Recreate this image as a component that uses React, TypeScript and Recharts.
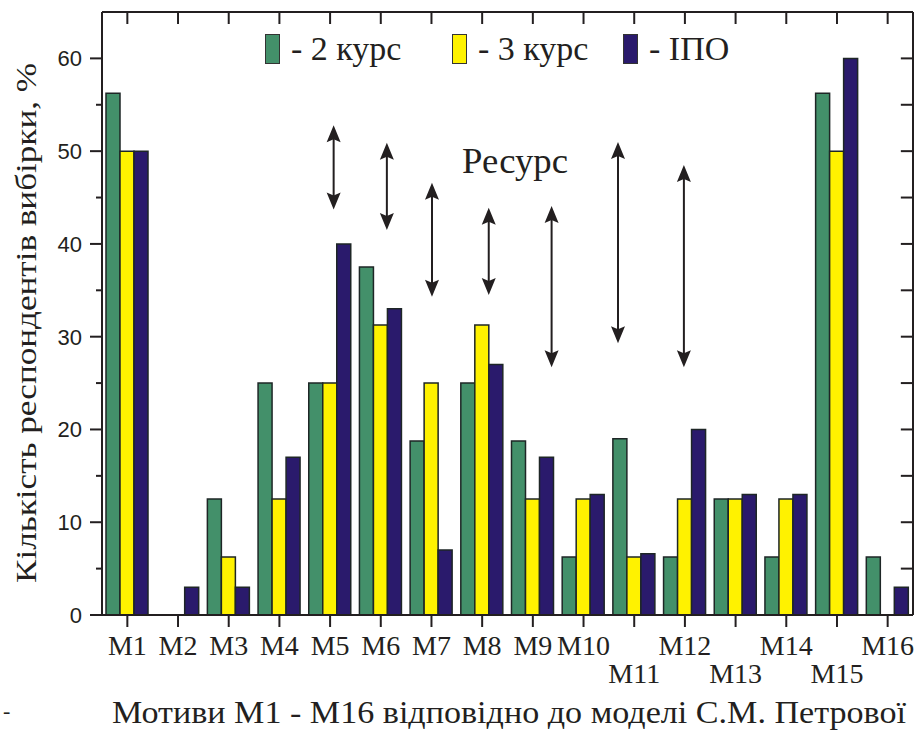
import { Bar, BarChart, Legend, ReferenceLine, XAxis, YAxis } from "recharts";

const categories = ["М1", "М2", "М3", "М4", "М5", "М6", "М7", "М8", "М9", "М10", "М11", "М12", "М13", "М14", "М15", "М16"];
const course2 = [56.25, 0, 12.5, 25, 25, 37.5, 18.75, 25, 18.75, 6.25, 19, 6.25, 12.5, 6.25, 56.25, 6.25];
const course3 = [50, 0, 6.25, 12.5, 25, 31.25, 25, 31.25, 12.5, 12.5, 6.25, 12.5, 12.5, 12.5, 50, 0];
const ipo = [50, 3, 3, 17, 40, 33, 7, 27, 17, 13, 6.6, 20, 13, 13, 60, 3];
const yTicks = [0, 5, 10, 15, 20, 25, 30, 35, 40, 45, 50, 55, 60];

// "resource" arrows: position on the category scale (1 = M1) and the two ends in %
const arrowX = [5.07, 6.12, 7.01, 8.13, 9.37, 10.68, 11.98];
const arrowTop = [52.8, 50.9, 46.6, 43.9, 44.1, 51.0, 48.5];
const arrowBottom = [43.7, 41.5, 34.3, 34.5, 26.7, 29.3, 26.7];

const series = [
  { key: "c2", name: "- 2 курс", fill: "#43906a" },
  { key: "c3", name: "- 3 курс", fill: "#fff200" },
  { key: "ipo", name: "- ІПО", fill: "#2a1a6c" },
];

const data = categories.map((name, i) => ({ name, pos: i + 1, c2: course2[i], c3: course3[i], ipo: ipo[i] }));

const SERIF = '"Liberation Serif", Tinos, "Times New Roman", Times, "DejaVu Serif", serif';
const SANS = '"Liberation Sans", Arimo, Arial, sans-serif';
const INK = "#231f20";
const PLOT_TOP = 12;
const Y_MAX = 65;
const X_MIN = 0.5;
const X_MAX = 16.5;
// inward tick length on the right frame, in axis units (about 12px)
const RIGHT_TICK = 0.24;

function LeftTick({ x, y, payload }: any) {
  const major = payload.value % 10 === 0;
  return (
    <g>
      <line x1={x - (major ? 12 : 6)} x2={x} y1={y} y2={y} stroke={INK} strokeWidth={2} />
      {major && (
        <text x={x - 20} y={y} dy={8} textAnchor="end" style={{ fontFamily: SANS, fontSize: 22 }} fill={INK}>
          {payload.value}
        </text>
      )}
    </g>
  );
}

function BottomTick({ x, y, payload, index }: any) {
  const low = index === 10 || index === 12 || index === 14;
  return (
    <text x={x} y={y} dy={low ? 54 : 26} textAnchor="middle" style={{ fontFamily: SERIF, fontSize: 28 }} fill={INK}>
      {payload.value}
    </text>
  );
}

function Arrow({ x1, y1, y2 }: any) {
  const top = Math.min(y1, y2);
  const bot = Math.max(y1, y2);
  return (
    <g fill={INK} stroke="none">
      <line x1={x1} x2={x1} y1={top + 10} y2={bot - 10} stroke={INK} strokeWidth={2} />
      <polygon points={`${x1},${top} ${x1 - 7},${top + 17} ${x1},${top + 14} ${x1 + 7},${top + 17}`} />
      <polygon points={`${x1},${bot} ${x1 - 7},${bot - 17} ${x1},${bot - 14} ${x1 + 7},${bot - 17}`} />
    </g>
  );
}

function YTitle() {
  return (
    <text x={36} y={323} transform="rotate(-90 36 323)" textAnchor="middle" textLength={520} lengthAdjust="spacingAndGlyphs"
      style={{ fontFamily: SERIF, fontSize: 30 }} fill={INK}>
      Кількість респондентів вибірки, %
    </text>
  );
}

// bottom-axis label: titles, plus the top frame with inward ticks at the band centres
function XTitle(props: any) {
  const vb = props.viewBox && props.viewBox.width ? props.viewBox : { x: 102, width: 811 };
  const band = vb.width / categories.length;
  return (
    <g>
      <line x1={vb.x} x2={vb.x + vb.width} y1={PLOT_TOP} y2={PLOT_TOP} stroke={INK} strokeWidth={2} />
      {categories.map((c, i) => (
        <line key={c} x1={vb.x + band * (i + 0.5)} x2={vb.x + band * (i + 0.5)} y1={PLOT_TOP} y2={PLOT_TOP + 12}
          stroke={INK} strokeWidth={2} />
      ))}
      <text x={509} y={723} textAnchor="middle" textLength={794} lengthAdjust="spacingAndGlyphs"
        style={{ fontFamily: SERIF, fontSize: 31 }} fill={INK}>
        Мотиви М1 - М16 відповідно до моделі С.М. Петрової
      </text>
      <text x={3} y={718} style={{ fontFamily: SERIF, fontSize: 22 }} fill={INK}>-</text>
      <text x={515} y={173} textAnchor="middle" textLength={106} lengthAdjust="spacingAndGlyphs"
        style={{ fontFamily: SERIF, fontSize: 35 }} fill={INK}>
        Ресурс
      </text>
    </g>
  );
}

function LegendRow() {
  const lefts = [265, 452, 623];
  return (
    <div style={{ position: "relative", width: 480, height: 40 }}>
      {series.map((s, i) => (
        <div key={s.key} style={{ position: "absolute", left: lefts[i] - 265, top: 0, display: "flex", alignItems: "center" }}>
          <span style={{ display: "inline-block", width: 13, height: 28, background: s.fill, border: "1px solid #333" }} />
          <span style={{ marginLeft: 11, fontFamily: SERIF, fontSize: 34, color: INK, lineHeight: "32px", whiteSpace: "nowrap" }}>
            {s.name}
          </span>
        </div>
      ))}
    </div>
  );
}

export default function App() {
  return (
    <div style={{ position: "absolute", left: 0, top: 0, background: "#fff" }}>
      <BarChart width={919} height={730} data={data} margin={{ top: PLOT_TOP, right: 6, bottom: 0, left: 0 }} barSize={14} barGap={0}>
        <XAxis dataKey="name" height={115} interval={0} tickSize={12} tickMargin={2} stroke={INK} strokeWidth={2}
          tickLine={{ stroke: INK, strokeWidth: 2 }} tick={<BottomTick />} label={<XTitle />} />
        <XAxis xAxisId="num" dataKey="pos" type="number" domain={[X_MIN, X_MAX]} allowDataOverflow hide />
        <YAxis domain={[0, Y_MAX]} ticks={yTicks} width={102} tickSize={0} tickMargin={0} tickLine={false} interval={0}
          allowDataOverflow stroke={INK} strokeWidth={2} tick={<LeftTick />} label={<YTitle />} />
        <Legend layout="vertical" verticalAlign="middle" align="center" content={<LegendRow />}
          wrapperStyle={{ position: "absolute", top: 33, left: 265, width: 480 }} />
        {series.map((s) => (
          <Bar key={s.key} dataKey={s.key} name={s.name} fill={s.fill} stroke="#1e2626" strokeWidth={1.5} isAnimationActive={false} />
        ))}
        {/* right frame with inward ticks */}
        <ReferenceLine xAxisId="num" x={X_MAX} stroke={INK} strokeWidth={2} ifOverflow="visible" />
        {yTicks.slice(1).map((v) => (
          <ReferenceLine key={`r${v}`} xAxisId="num" segment={[{ x: X_MAX, y: v }, { x: X_MAX - RIGHT_TICK, y: v }]}
            stroke={INK} strokeWidth={2} ifOverflow="visible" />
        ))}
        {arrowX.map((x, i) => (
          <ReferenceLine key={i} xAxisId="num" segment={[{ x, y: arrowTop[i] }, { x, y: arrowBottom[i] }]} shape={Arrow} />
        ))}
      </BarChart>
    </div>
  );
}
